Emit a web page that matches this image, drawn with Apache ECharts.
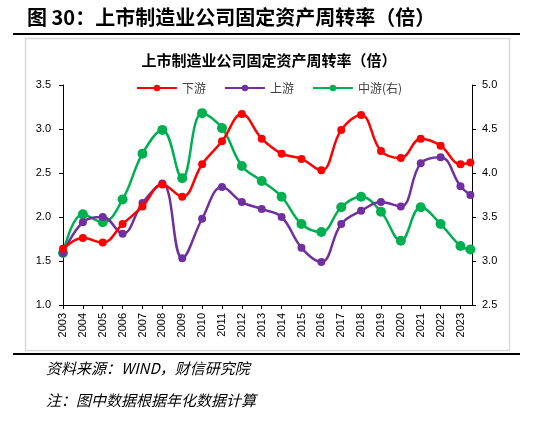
<!DOCTYPE html>
<html>
<head>
<meta charset="utf-8">
<style>
html,body{margin:0;padding:0;background:#fff;}
#main{width:538px;height:424px;}
</style>
<script src="https://cdn.jsdelivr.net/npm/echarts@6/dist/echarts.min.js"></script>
</head>
<body>
<div id="main"></div>
<script>
// x positions: years 2003-2023 plus a half-year (annualized) point
const xValues = [2003,2004,2005,2006,2007,2008,2009,2010,2011,2012,2013,2014,2015,2016,2017,2018,2019,2020,2021,2022,2023,2023.5];
const downstream = [1.64,1.76,1.71,1.92,2.12,2.37,2.23,2.60,2.86,3.17,2.89,2.72,2.66,2.53,2.99,3.16,2.75,2.67,2.89,2.81,2.60,2.62];
const upstream   = [1.59,1.94,2.00,1.81,2.16,2.38,1.53,1.98,2.34,2.17,2.09,2.00,1.65,1.49,1.92,2.07,2.17,2.12,2.61,2.68,2.35,2.25];
const midstream  = [3.09,3.53,3.44,3.70,4.22,4.49,3.94,4.68,4.51,4.08,3.91,3.73,3.42,3.33,3.61,3.73,3.56,3.23,3.61,3.42,3.17,3.13];
const seriesNames = ['下游','上游','中游(右)'];

const pair = arr => arr.map((v,i)=>[xValues[i], v]);
const CJK = '"Noto Sans CJK SC","Noto Sans",sans-serif';
const chart = echarts.init(document.getElementById('main'), null, {renderer:'canvas'});
chart.setOption({
  animation:false,
  backgroundColor:'#fff',
  title:{
    text:'上市制造业公司固定资产周转率（倍）',
    left:'center', top:48,
    textStyle:{fontFamily:CJK,fontSize:15,fontWeight:'bold',color:'#000'}
  },
  legend:{
    data:seriesNames,
    left:'center', top:77,
    itemWidth:40, itemHeight:8, itemGap:18,
    textStyle:{fontFamily:CJK,fontSize:12,color:'#404040'}
  },
  grid:{left:63,right:66,top:85,bottom:119,containLabel:false},
  xAxis:{
    type:'value', min:2003, max:2023.58, interval:1,
    axisLine:{lineStyle:{color:'#000',width:1}},
    axisTick:{show:true,length:4,lineStyle:{color:'#000'}},
    splitLine:{show:false},
    axisLabel:{
      rotate:90, margin:8, fontSize:11, color:'#000', fontFamily:'"Liberation Sans",Arial,sans-serif',
      showMaxLabel:false,
      formatter:v=> Number.isInteger(v) ? String(v) : ''
    }
  },
  yAxis:[{
    type:'value', min:1.0, max:3.5, interval:0.5,
    axisLine:{show:true,lineStyle:{color:'#000'}},
    axisTick:{show:true,length:4,lineStyle:{color:'#000'}},
    splitLine:{show:false},
    axisLabel:{fontSize:11,color:'#000',margin:12,formatter:v=>v.toFixed(1),fontFamily:'"Liberation Sans",Arial,sans-serif'}
  },{
    type:'value', min:2.5, max:5.0, interval:0.5, position:'right',
    axisLine:{show:true,lineStyle:{color:'#000'}},
    axisTick:{show:true,length:4,lineStyle:{color:'#000'}},
    splitLine:{show:false},
    axisLabel:{fontSize:11,color:'#000',margin:10,formatter:v=>v.toFixed(1),fontFamily:'"Liberation Sans",Arial,sans-serif'}
  }],
  series:[
    {name:seriesNames[0],type:'line',yAxisIndex:0,data:pair(downstream),smooth:0.4,
     symbol:'circle',symbolSize:8,itemStyle:{color:'#FF0000'},lineStyle:{width:2.5,color:'#FF0000'},z:3},
    {name:seriesNames[1],type:'line',yAxisIndex:0,data:pair(upstream),smooth:0.4,
     symbol:'circle',symbolSize:8,itemStyle:{color:'#7030A0'},lineStyle:{width:2.5,color:'#7030A0'},z:2},
    {name:seriesNames[2],type:'line',yAxisIndex:1,data:pair(midstream),smooth:0.4,
     symbol:'circle',symbolSize:10,itemStyle:{color:'#00B050'},lineStyle:{width:2.5,color:'#00B050'},z:1}
  ],
  graphic:[
    {type:'rect',z:-10,shape:{x:25.5,y:38.5,width:484,height:312},style:{fill:'#fff',stroke:'#d9d9d9',lineWidth:1.5}},
    {type:'text',left:27,top:7,style:{text:'图 30：上市制造业公司固定资产周转率（倍）',font:'bold 20px "Noto Sans CJK SC",sans-serif',fill:'#000'}},
    {type:'line',shape:{x1:13,y1:34,x2:520,y2:34},style:{stroke:'#000',lineWidth:2}},
    {type:'line',shape:{x1:13,y1:354,x2:520,y2:354},style:{stroke:'#000',lineWidth:2}},
    {type:'text',left:46,top:361,style:{text:'资料来源：WIND，财信研究院',font:'italic 15px "Noto Sans CJK SC",sans-serif',fill:'#000'}},
    {type:'text',left:46,top:393,style:{text:'注：图中数据根据年化数据计算',font:'italic 15px "Noto Sans CJK SC",sans-serif',fill:'#000'}}
  ]
});
</script>
</body>
</html>
